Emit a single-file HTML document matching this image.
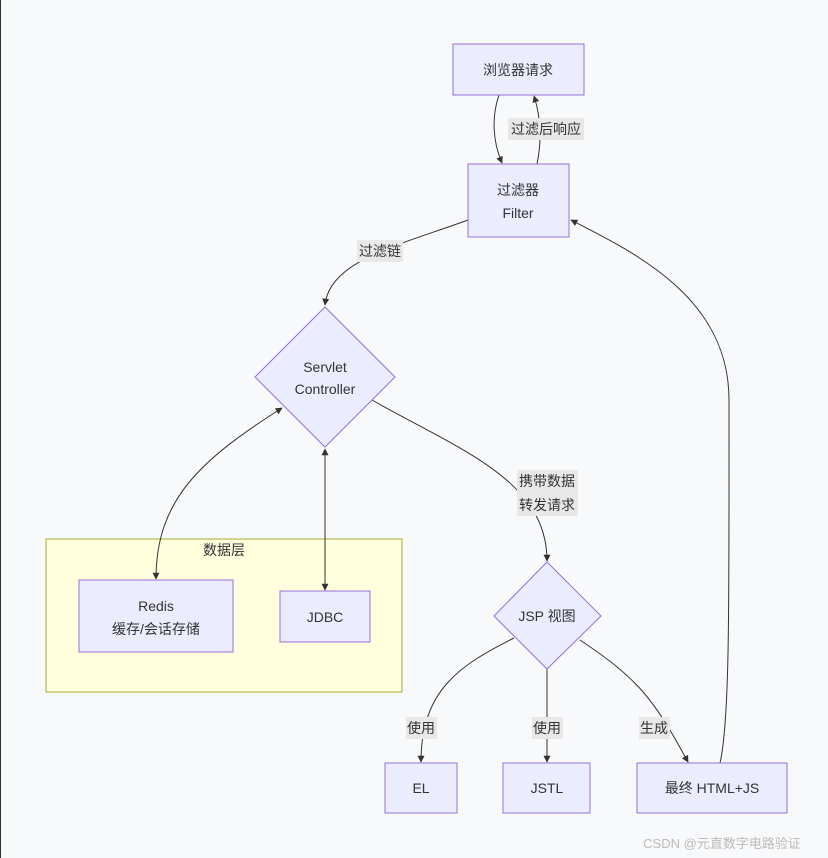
<!DOCTYPE html>
<html><head><meta charset="utf-8"><style>
html,body{margin:0;padding:0;background:#f8f9fb;}
svg{display:block;font-family:"Liberation Sans","Noto Sans CJK SC",sans-serif;}
</style></head><body>
<svg width="828" height="858" viewBox="0 0 828 858" xmlns="http://www.w3.org/2000/svg">
<defs>
<marker id="a" viewBox="0 0 10 10" refX="9" refY="5" markerWidth="7" markerHeight="7" orient="auto-start-reverse"><path d="M0,0 L10,5 L0,10 z" fill="#333"/></marker>
</defs>
<rect x="0" y="0" width="828" height="858" fill="#f8f9fb"/>
<line x1="0.5" y1="0" x2="0.5" y2="858" stroke="#333" stroke-width="1"/>
<rect x="46" y="539" width="356" height="153" fill="#ffffde" stroke="#aaaa33"/>
<text x="224" y="555" font-size="14" fill="#333" text-anchor="middle">数据层</text>
<g fill="none" stroke="#333" stroke-width="1">
<path d="M499,95 C492,115 492,140 502,163" marker-end="url(#a)"/>
<path d="M537,164 C542,140 541,118 534,96" marker-end="url(#a)"/>
<path d="M468,220 C400,245 330,260 325,305" marker-end="url(#a)"/>
<path d="M282,408 C200,460 156,500 156,579" marker-start="url(#a)" marker-end="url(#a)"/>
<path d="M325,449 L325,590" marker-start="url(#a)" marker-end="url(#a)"/>
<path d="M372,400 C460,450 547,480 547,561" marker-end="url(#a)"/>
<path d="M720,763 C730,720 729,600 729,400 C729,300 640,255 571,220" marker-end="url(#a)"/>
<path d="M514,638 C460,665 421,690 421,762" marker-end="url(#a)"/>
<path d="M547,669 L547,762" marker-end="url(#a)"/>
<path d="M580,640 C640,680 654,700 688,762" marker-end="url(#a)"/>
</g>
<g fill="#ececff" stroke="#9370db" stroke-width="1">
<rect x="453" y="44" width="131" height="51"/>
<rect x="468" y="164" width="101" height="73"/>
<polygon points="325,307 395,377 325,447 255,377"/>
<rect x="79" y="580" width="154" height="72"/>
<rect x="280" y="591" width="90" height="51"/>
<polygon points="547,562 601,616 547,669 494,616"/>
<rect x="385" y="763" width="72" height="50"/>
<rect x="503" y="763" width="87" height="50"/>
<rect x="637" y="763" width="150" height="50"/>
</g>
<g fill="#e8e8e8">
<rect x="508" y="118" width="76" height="22"/>
<rect x="357" y="240" width="46" height="22"/>
<rect x="517" y="470" width="61" height="46"/>
<rect x="406" y="717" width="31" height="22"/>
<rect x="532" y="717" width="31" height="22"/>
<rect x="639" y="717" width="31" height="22"/>
</g>
<g font-size="14" fill="#333" text-anchor="middle">
<text x="518" y="75">浏览器请求</text>
<text x="518" y="195">过滤器</text>
<text x="518" y="218">Filter</text>
<text x="325" y="372">Servlet</text>
<text x="325" y="394">Controller</text>
<text x="156" y="611">Redis</text>
<text x="156" y="634">缓存/会话存储</text>
<text x="325" y="622">JDBC</text>
<text x="547" y="621">JSP 视图</text>
<text x="421" y="793">EL</text>
<text x="547" y="793">JSTL</text>
<text x="712" y="793">最终 HTML+JS</text>
<text x="546" y="134">过滤后响应</text>
<text x="380" y="256">过滤链</text>
<text x="547" y="486">携带数据</text>
<text x="547" y="510">转发请求</text>
<text x="421" y="733">使用</text>
<text x="547" y="733">使用</text>
<text x="654" y="733">生成</text>
</g>
<text x="722" y="848" font-size="13" fill="#bbb" text-anchor="middle">CSDN @元直数字电路验证</text>
</svg>
</body></html>
